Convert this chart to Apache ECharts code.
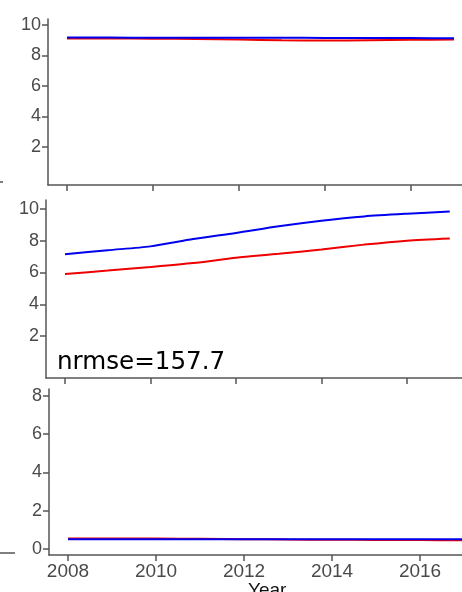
<!DOCTYPE html>
<html>
<head>
<meta charset="utf-8">
<script src="https://cdn.jsdelivr.net/npm/echarts@6/dist/echarts.min.js"></script>
<style>
  html, body { margin: 0; padding: 0; background: #ffffff; }
  #chart { width: 462px; height: 592px; }
</style>
</head>
<body>
<div id="chart"></div>
<script>
// Yearly series for the three stacked panels
const years = [2008, 2009, 2010, 2011, 2012, 2013, 2014, 2015, 2016, 2017];

const topRed   = [9.12, 9.12, 9.10, 9.08, 9.04, 8.99, 8.98, 9.00, 9.03, 9.04];
const topBlue  = [9.17, 9.17, 9.16, 9.16, 9.16, 9.16, 9.15, 9.15, 9.14, 9.13];

const midRed   = [5.90, 6.12, 6.35, 6.60, 6.92, 7.17, 7.44, 7.75, 8.00, 8.14];
const midBlue  = [7.15, 7.40, 7.64, 8.10, 8.48, 8.90, 9.25, 9.52, 9.69, 9.83];

const lowRed   = [0.53, 0.53, 0.53, 0.52, 0.50, 0.48, 0.47, 0.46, 0.45, 0.44];
const lowBlue  = [0.50, 0.50, 0.50, 0.50, 0.50, 0.50, 0.50, 0.50, 0.50, 0.50];

// Tick labels
const yearTicks = [2008, 2010, 2012, 2014, 2016];
const topTicks  = [2, 4, 6, 8, 10];
const midTicks  = [2, 4, 6, 8, 10];
const lowTicks  = [0, 2, 4, 6, 8];

const midLabel = 'nrmse=157.7';
const xTitle = 'Year';

const axisGrey = '#555555';
const labelGrey = '#4a4a4a';
const labelFont = 'Liberation Sans, Arial, sans-serif';

function pairs(vals) {
  return years.map((y, i) => [y, vals[i]]);
}

function xAxisFor(gridIndex, min, max, showLabels) {
  return {
    type: 'value', gridIndex, min, max,
    axisLine: { show: true, onZero: false, lineStyle: { color: axisGrey, width: 1.5 } },
    axisTick: { show: true, customValues: yearTicks, length: 6, lineStyle: { color: axisGrey, width: 1.5 } },
    axisLabel: {
      show: showLabels, customValues: yearTicks, margin: 7,
      formatter: v => String(v),
      color: labelGrey, fontSize: 19, fontFamily: labelFont
    },
    splitLine: { show: false }
  };
}

function yAxisFor(gridIndex, min, max, ticks) {
  return {
    type: 'value', gridIndex, min, max,
    axisLine: { show: true, onZero: false, lineStyle: { color: axisGrey, width: 1.5 } },
    axisTick: { show: true, customValues: ticks, length: 6, lineStyle: { color: axisGrey, width: 1.5 } },
    axisLabel: {
      customValues: ticks, margin: 7,
      formatter: v => String(v),
      color: labelGrey, fontSize: 18, fontFamily: labelFont
    },
    splitLine: { show: false }
  };
}

function line(idx, vals, color) {
  return {
    type: 'line', xAxisIndex: idx, yAxisIndex: idx,
    data: pairs(vals), showSymbol: false, smooth: 0.25,
    lineStyle: { color, width: 2 }, animation: false
  };
}

const chart = echarts.init(document.getElementById('chart'), null, { renderer: 'canvas' });

chart.setOption({
  backgroundColor: '#ffffff',
  animation: false,
  grid: [
    { left: 48, top: 19, width: 422, height: 166, outerBoundsMode: 'none', containLabel: false },
    { left: 46, top: 200, width: 424, height: 178, outerBoundsMode: 'none', containLabel: false },
    { left: 49, top: 389, width: 421, height: 166, outerBoundsMode: 'none', containLabel: false }
  ],
  xAxis: [
    xAxisFor(0, 2007.558, 2017.372, false),
    xAxisFor(1, 2007.556, 2017.474, false),
    xAxisFor(2, 2007.568, 2017.136, true)
  ],
  yAxis: [
    yAxisFor(0, -0.49, 10.39, topTicks),
    yAxisFor(1, -0.62, 10.55, midTicks),
    yAxisFor(2, -0.33, 8.37, lowTicks)
  ],
  series: [
    line(0, topRed, '#ee0000'),
    line(0, topBlue, '#0000ee'),
    line(1, midRed, '#ee0000'),
    line(1, midBlue, '#0000ee'),
    line(2, lowRed, '#ee0000'),
    line(2, lowBlue, '#0000ee')
  ],
  graphic: [
    {
      type: 'text', left: 57, top: 350,
      style: { text: midLabel, fill: '#000000', font: '24.6px "DejaVu Sans", sans-serif' }
    },
    {
      type: 'text', left: 248, top: 581,
      style: { text: xTitle, fill: '#111111', font: '19px "Liberation Sans", Arial, sans-serif' }
    },
    {
      type: 'line', shape: { x1: 0, y1: 182, x2: 3, y2: 182 },
      style: { stroke: axisGrey, lineWidth: 1.5 }
    },
    {
      type: 'line', shape: { x1: 0, y1: 553, x2: 15, y2: 553 },
      style: { stroke: axisGrey, lineWidth: 1.5 }
    }
  ]
});
</script>
</body>
</html>
